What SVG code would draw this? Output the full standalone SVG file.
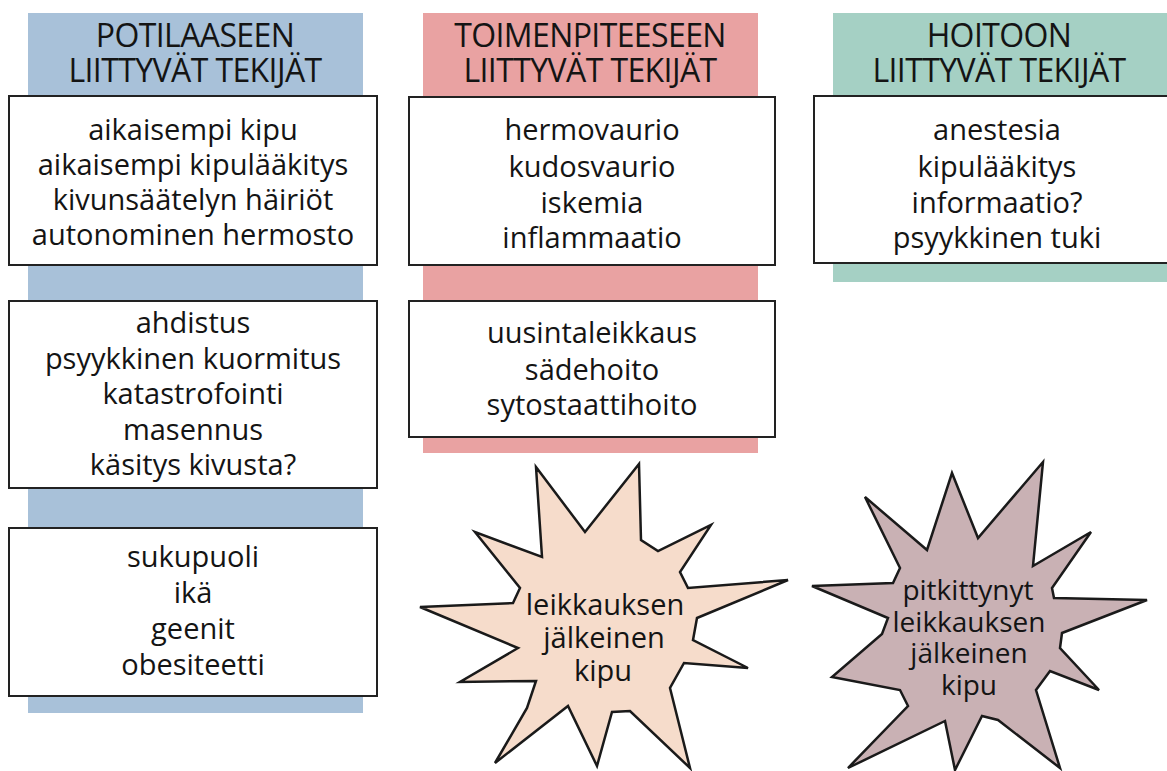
<svg xmlns="http://www.w3.org/2000/svg" width="1167" height="771" viewBox="0 0 1167 771">
<style>
.col-blue{fill:#a8c1d9}
.col-pink{fill:#e9a2a2}
.col-green{fill:#a5d0c4}
.box{fill:#ffffff;stroke:#222222;stroke-width:2}
.star{stroke:#1a1a1a;stroke-width:2.5;stroke-linejoin:miter}
.hd{font-family:"Open Sans","Liberation Sans",sans-serif;font-size:32px;fill:#141414;text-anchor:middle;letter-spacing:-0.6px}
.tx{font-family:"Open Sans","Liberation Sans",sans-serif;font-size:29px;fill:#141414;text-anchor:middle}
.st{font-family:"Open Sans","Liberation Sans",sans-serif;font-size:28px;fill:#141414;text-anchor:middle}
</style>
<rect width="1167" height="771" fill="#ffffff"/>
<g id="column-potilas">
<rect class="col-blue" x="28" y="13" width="335" height="700"/>
<text class="hd" x="195" y="47">POTILAASEEN</text>
<text class="hd" x="195" y="82">LIITTYVÄT TEKIJÄT</text>
</g>
<g id="column-toimenpide">
<rect class="col-pink" x="423" y="13" width="335" height="440"/>
<text class="hd" x="590" y="47">TOIMENPITEESEEN</text>
<text class="hd" x="590" y="82">LIITTYVÄT TEKIJÄT</text>
</g>
<g id="column-hoito">
<rect class="col-green" x="833" y="13" width="334" height="269"/>
<text class="hd" x="999" y="47">HOITOON</text>
<text class="hd" x="999" y="82">LIITTYVÄT TEKIJÄT</text>
</g>
<g id="box-potilas-1">
<rect class="box" x="9" y="96" width="368" height="169"/>
<text class="tx" x="193" y="140">aikaisempi kipu</text>
<text class="tx" x="193" y="175">aikaisempi kipulääkitys</text>
<text class="tx" x="193" y="210">kivunsäätelyn häiriöt</text>
<text class="tx" x="193" y="245">autonominen hermosto</text>
</g>
<g id="box-potilas-2">
<rect class="box" x="9" y="301" width="368" height="187"/>
<text class="tx" x="193" y="333">ahdistus</text>
<text class="tx" x="193" y="368.5">psyykkinen kuormitus</text>
<text class="tx" x="193" y="404">katastrofointi</text>
<text class="tx" x="193" y="439.5">masennus</text>
<text class="tx" x="193" y="475">käsitys kivusta?</text>
</g>
<g id="box-potilas-3">
<rect class="box" x="9" y="528" width="368" height="168"/>
<text class="tx" x="193" y="567">sukupuoli</text>
<text class="tx" x="193" y="603">ikä</text>
<text class="tx" x="193" y="639">geenit</text>
<text class="tx" x="193" y="675">obesiteetti</text>
</g>
<g id="box-toimenpide-1">
<rect class="box" x="409" y="97" width="366" height="168"/>
<text class="tx" x="592" y="140">hermovaurio</text>
<text class="tx" x="592" y="177">kudosvaurio</text>
<text class="tx" x="592" y="213">iskemia</text>
<text class="tx" x="592" y="248">inflammaatio</text>
</g>
<g id="box-toimenpide-2">
<rect class="box" x="409" y="301" width="366" height="136"/>
<text class="tx" x="592" y="343">uusintaleikkaus</text>
<text class="tx" x="592" y="380">sädehoito</text>
<text class="tx" x="592" y="415">sytostaattihoito</text>
</g>
<g id="box-hoito">
<rect class="box" x="814" y="96" width="360" height="167"/>
<text class="tx" x="997" y="140">anestesia</text>
<text class="tx" x="997" y="177">kipulääkitys</text>
<text class="tx" x="997" y="213">informaatio?</text>
<text class="tx" x="997" y="248">psyykkinen tuki</text>
</g>
<g id="star-akuutti">
<polygon class="star" fill="#f6dccb" points="536,467 585,532 639,464 641,540 658,551 711,525 680,572 688,588 788,580 697,618 693,640 748,668 684,663 670,688 690,768 630,711 612,712 597,766 568,706 495,763 527,708 536,681 460,682 518,648 420,607 513,603 520,588 475,532 542,557"/>
<text class="tx" x="605" y="615">leikkauksen</text>
<text class="tx" x="604" y="648">jälkeinen</text>
<text class="tx" x="603" y="681">kipu</text>
</g>
<g id="star-krooninen">
<polygon class="star" fill="#c9b1b4" points="865,497 927,550 952,473 978,538 1043,462 1033,566 1091,532 1052,588 1054,598 1147,600 1062,633 1060,648 1099,690 1050,671 1036,690 1060,768 998,720 982,716 955,770 945,721 848,768 908,706 900,690 832,677 882,634 888,618 812,586 893,583 900,568"/>
<text class="st" x="968" y="600">pitkittynyt</text>
<text class="st" x="969" y="631.5">leikkauksen</text>
<text class="st" x="969" y="663">jälkeinen</text>
<text class="st" x="969" y="694.5">kipu</text>
</g>
<g id="connectors"></g>
</svg>
